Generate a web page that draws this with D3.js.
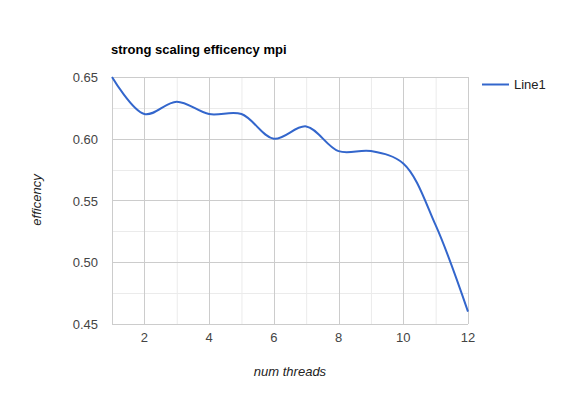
<!DOCTYPE html>
<html><head><meta charset="utf-8">
<script src="https://cdn.jsdelivr.net/npm/d3@7"></script>
<style>body{margin:0;background:#fff}</style>
</head><body>
<svg id="c" width="580" height="400"></svg>
<script>
const threads = [1,2,3,4,5,6,7,8,9,10,11,12];
const efficiency = [0.65,0.62,0.63,0.62,0.62,0.60,0.61,0.59,0.59,0.58,0.53,0.46];
const xTicks = [2,4,6,8,10,12];
const yTicks = [0.45,0.50,0.55,0.60,0.65];
const title = "strong scaling efficency mpi";
const xTitle = "num threads";
const yTitle = "efficency";
const seriesName = "Line1";

const svg = d3.select("#c");
const font = "Arial, 'Liberation Sans', sans-serif";
const L=112, R=468, T=77, B=324;
const x = d3.scaleLinear().domain([1,12]).range([L,R]);
const y = d3.scaleLinear().domain([0.45,0.65]).range([B,T]);

// minor gridlines
const xMinor = d3.range(3,12,2);
const yMinor = d3.range(0,4).map(i=>0.475+i*0.05);
svg.append("g").selectAll("line").data(xMinor).join("line")
  .attr("x1",d=>x(d)+0.5).attr("x2",d=>x(d)+0.5).attr("y1",T).attr("y2",B)
  .attr("stroke","#ebebeb");
svg.append("g").selectAll("line").data(yMinor).join("line")
  .attr("y1",d=>Math.round(y(d))+0.5).attr("y2",d=>Math.round(y(d))+0.5).attr("x1",L).attr("x2",R)
  .attr("stroke","#ebebeb");
// major gridlines
svg.append("g").selectAll("line").data(xTicks).join("line")
  .attr("x1",d=>Math.round(x(d))+0.5).attr("x2",d=>Math.round(x(d))+0.5).attr("y1",T).attr("y2",B)
  .attr("stroke","#cccccc");
svg.append("g").selectAll("line").data(yTicks).join("line")
  .attr("y1",d=>Math.round(y(d))+0.5).attr("y2",d=>Math.round(y(d))+0.5).attr("x1",L).attr("x2",R)
  .attr("stroke","#cccccc");
// left edge
svg.append("line").attr("x1",L+0.5).attr("x2",L+0.5).attr("y1",T).attr("y2",B).attr("stroke","#cccccc");

// tick labels
svg.append("g").selectAll("text").data(yTicks).join("text")
  .attr("x",98).attr("y",d=>y(d)+5).attr("text-anchor","end")
  .attr("font-family",font).attr("font-size",13).attr("fill","#444")
  .text(d=>d3.format(".2f")(d));
svg.append("g").selectAll("text").data(xTicks).join("text")
  .attr("x",d=>x(d)).attr("y",342).attr("text-anchor","middle")
  .attr("font-family",font).attr("font-size",13).attr("fill","#444")
  .text(d=>d);

// line
const line = d3.line().x((d,i)=>x(threads[i])).y(d=>y(d)).curve(d3.curveCatmullRom.alpha(0.5));
svg.append("path").datum(efficiency).attr("d",line)
  .attr("fill","none").attr("stroke","#3366cc").attr("stroke-width",2);

// title
svg.append("text").attr("x",111).attr("y",54).attr("font-family",font)
  .attr("font-size",13).attr("font-weight","bold").attr("fill","#000").text(title);
// axis titles
svg.append("text").attr("x",290).attr("y",376).attr("text-anchor","middle")
  .attr("font-family",font).attr("font-size",13).attr("font-style","italic").attr("fill","#222").text(xTitle);
svg.append("text").attr("transform","translate(41,200) rotate(-90)").attr("text-anchor","middle")
  .attr("font-family",font).attr("font-size",13).attr("font-style","italic").attr("fill","#222").text(yTitle);

// legend
svg.append("line").attr("x1",482).attr("x2",509).attr("y1",84.5).attr("y2",84.5)
  .attr("stroke","#3366cc").attr("stroke-width",2);
svg.append("text").attr("x",514).attr("y",89).attr("font-family",font)
  .attr("font-size",13).attr("fill","#222").text(seriesName);
</script>
</body></html>
